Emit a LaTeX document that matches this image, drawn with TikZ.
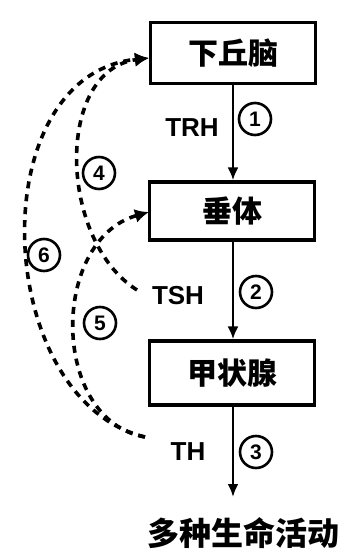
\documentclass[tikz,border=0pt]{standalone}
\usepackage{fontspec}
\newfontfamily\cjk{Noto Sans CJK SC}
\newfontfamily\lab{Liberation Sans}
\usetikzlibrary{arrows.meta}
\tikzset{
  organ/.style={draw, line width=3.2pt, minimum width=165pt, inner sep=0pt, font=\cjk\bfseries\fontsize{30}{30}\selectfont},
  flow/.style={line width=2.6pt, -{Latex[length=13pt,width=11pt]}},
  fb/.style={line width=3.6pt, dash pattern=on 7pt off 6pt, -{Latex[length=14pt,width=14pt]}},
  hlab/.style={font=\lab\bfseries\fontsize{26}{26}\selectfont, inner sep=0pt},
  num/.style={circle, draw, line width=2.6pt, minimum size=32pt, inner sep=0pt, font=\lab\bfseries\fontsize{21}{21}\selectfont}
}
\begin{document}
\begin{tikzpicture}[x=1pt,y=-1pt]
\useasboundingbox (0,0) rectangle (343,553);
\node[organ, minimum height=61pt] (hyp) at (233,53) {下丘脑};
\node[organ, minimum height=58pt] (pit) at (232,211) {垂体};
\node[organ, minimum height=64pt] (thy) at (232,373) {甲状腺};
\coordinate (tip) at (233,497);
\node[font=\cjk\bfseries\fontsize{32}{32}\selectfont, inner sep=0pt] (act) at (243,533) {多种生命活动};

\draw[flow] (hyp.south -| 233,0) -- (pit.north -| 233,0);
\draw[flow] (pit.south -| 233,0) -- (thy.north -| 233,0);
\draw[flow] (thy.south -| 233,0) -- (tip);

\node[hlab] (trh) at (192,128) {TRH};
\node[hlab] (tsh) at (178,296) {TSH};
\node[hlab] (th) at (188,452) {TH};

\node[num] (n1) at (255,119) {1};
\node[num] (n2) at (256,292) {2};
\node[num] (n3) at (256,452) {3};
\node[num] (n4) at (99,173) {4};
\node[num] (n5) at (100,323) {5};
\node[num] (n6) at (44,255) {6};

\coordinate (thS) at (145,437);
\coordinate (tshS) at (137,290);
\coordinate (hypW) at (149,58);
\coordinate (pitW) at (149,212);

\draw[fb] (thS) .. controls (-8,400) and (-20,75) .. (hypW);
\draw[fb] (tshS) .. controls (58,240) and (55,70) .. (hypW);
\draw[fb] (thS) .. controls (50,420) and (50,240) .. (pitW);
\end{tikzpicture}
\end{document}
